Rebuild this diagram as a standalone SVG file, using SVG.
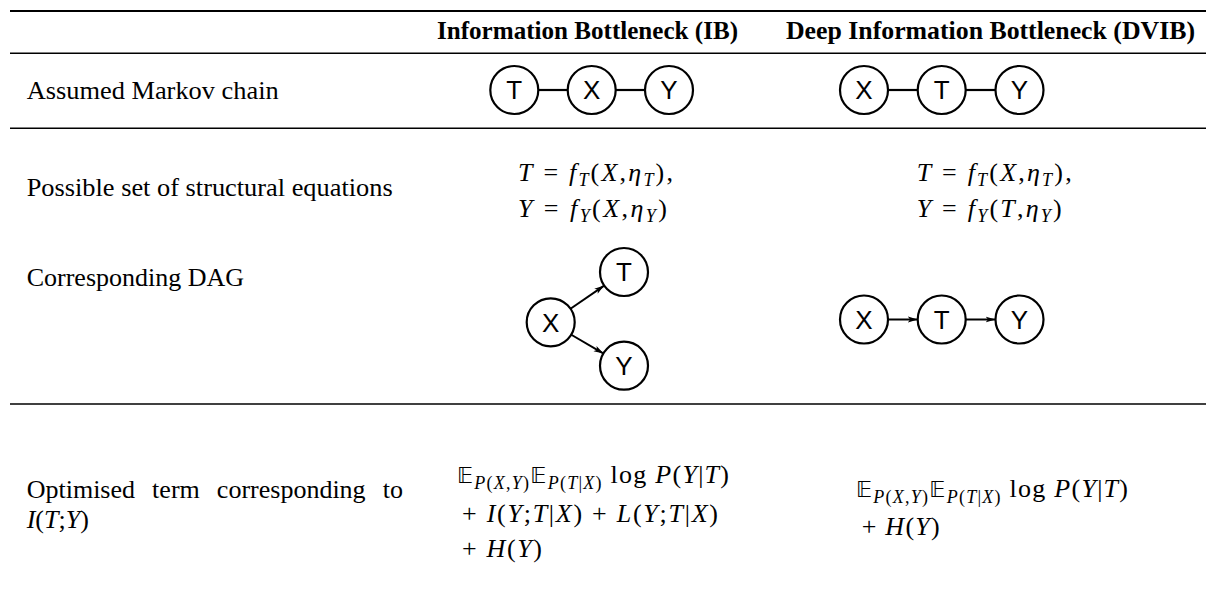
<svg xmlns="http://www.w3.org/2000/svg" width="1206" height="602" viewBox="0 0 1206 602">
<defs>
<style>
.t{font-family:"Liberation Serif","Times New Roman",serif;font-size:26px;fill:#000}
.h{font-family:"Liberation Serif","Times New Roman",serif;font-size:25.5px;font-weight:bold;fill:#000}
.i{font-style:italic}
.s{font-size:18px}
.bb{font-family:"DejaVu Sans","DejaVu Serif",sans-serif;font-size:22px}
.rule{stroke:#000;stroke-width:1.4}
.top{stroke:#000;stroke-width:2.2}
.nd circle{fill:#fff;stroke:#000;stroke-width:2.2}
.nd text{font-family:"Liberation Sans",Arial,sans-serif;font-size:26px;text-anchor:middle;fill:#000}
.ln{stroke:#000;stroke-width:2.2;fill:none}
.ar{stroke:#000;stroke-width:2;fill:none;marker-end:url(#ah)}
</style>
<marker id="ah" markerUnits="userSpaceOnUse" markerWidth="12" markerHeight="8" refX="10" refY="4" orient="auto" viewBox="0 0 12 8">
<path d="M0,1 L10,4 L0,7 L2.5,4 Z" fill="#000"/>
</marker>
</defs>
<rect width="1206" height="602" fill="#fff"/>

<g id="rules">
<line class="top" x1="10" y1="11" x2="1206" y2="11"/>
<line class="rule" x1="10" y1="53.3" x2="1206" y2="53.3"/>
<line class="rule" x1="10" y1="128.3" x2="1206" y2="128.3"/>
<line class="rule" x1="10" y1="404" x2="1206" y2="404"/>
</g>

<g id="header">
<text class="h" x="437" y="39" textLength="301" lengthAdjust="spacingAndGlyphs">Information Bottleneck (IB)</text>
<text class="h" x="786" y="39" textLength="409" lengthAdjust="spacingAndGlyphs">Deep Information Bottleneck (DVIB)</text>
</g>

<g id="row-labels">
<text class="t" x="26.7" y="99.3" textLength="252" lengthAdjust="spacingAndGlyphs">Assumed Markov chain</text>
<text class="t" x="26.7" y="196" textLength="366" lengthAdjust="spacingAndGlyphs">Possible set of structural equations</text>
<text class="t" x="26.7" y="286">Corresponding DAG</text>
<text class="t" x="26.7" y="498.3" word-spacing="10.6">Optimised term corresponding to</text>
<text class="t" x="26.7" y="528.3"><tspan class="i">I</tspan>(<tspan class="i">T</tspan>;<tspan class="i">Y</tspan>)</text>
</g>

<g id="equations">
<text class="t" x="518" y="180.7" textLength="155" lengthAdjust="spacing"><tspan class="i">T</tspan> = <tspan class="i">f</tspan><tspan class="s i" dy="5">T</tspan><tspan dy="-5">(</tspan><tspan class="i">X</tspan>,<tspan class="i">η</tspan><tspan class="s i" dy="5">T</tspan><tspan dy="-5">),</tspan></text>
<text class="t" x="518" y="217.3" textLength="149" lengthAdjust="spacing"><tspan class="i">Y</tspan> = <tspan class="i">f</tspan><tspan class="s i" dy="5">Y</tspan><tspan dy="-5">(</tspan><tspan class="i">X</tspan>,<tspan class="i">η</tspan><tspan class="s i" dy="5">Y</tspan><tspan dy="-5">)</tspan></text>
<text class="t" x="916.7" y="180.7" textLength="155" lengthAdjust="spacing"><tspan class="i">T</tspan> = <tspan class="i">f</tspan><tspan class="s i" dy="5">T</tspan><tspan dy="-5">(</tspan><tspan class="i">X</tspan>,<tspan class="i">η</tspan><tspan class="s i" dy="5">T</tspan><tspan dy="-5">),</tspan></text>
<text class="t" x="916.7" y="217.3" textLength="145" lengthAdjust="spacing"><tspan class="i">Y</tspan> = <tspan class="i">f</tspan><tspan class="s i" dy="5">Y</tspan><tspan dy="-5">(</tspan><tspan class="i">T</tspan>,<tspan class="i">η</tspan><tspan class="s i" dy="5">Y</tspan><tspan dy="-5">)</tspan></text>
</g>

<g id="objectives">
<text class="t" x="457" y="483" textLength="272" lengthAdjust="spacing"><tspan class="bb">𝔼</tspan><tspan class="s i" dy="6">P</tspan><tspan class="s">(</tspan><tspan class="s i">X</tspan><tspan class="s">,</tspan><tspan class="s i">Y</tspan><tspan class="s">)</tspan><tspan class="bb" dy="-6">𝔼</tspan><tspan class="s i" dy="6">P</tspan><tspan class="s">(</tspan><tspan class="s i">T</tspan><tspan class="s">|</tspan><tspan class="s i">X</tspan><tspan class="s">)</tspan><tspan dy="-6"> log </tspan><tspan class="i">P</tspan>(<tspan class="i">Y</tspan>|<tspan class="i">T</tspan>)</text>
<text class="t" x="462" y="521.5" textLength="256" lengthAdjust="spacing">+ <tspan class="i">I</tspan>(<tspan class="i">Y</tspan>;<tspan class="i">T</tspan>|<tspan class="i">X</tspan>) + <tspan class="i">L</tspan>(<tspan class="i">Y</tspan>;<tspan class="i">T</tspan>|<tspan class="i">X</tspan>)</text>
<text class="t" x="462" y="557" textLength="80" lengthAdjust="spacing">+ <tspan class="i">H</tspan>(<tspan class="i">Y</tspan>)</text>
<text class="t" x="856" y="497" textLength="272" lengthAdjust="spacing"><tspan class="bb">𝔼</tspan><tspan class="s i" dy="6">P</tspan><tspan class="s">(</tspan><tspan class="s i">X</tspan><tspan class="s">,</tspan><tspan class="s i">Y</tspan><tspan class="s">)</tspan><tspan class="bb" dy="-6">𝔼</tspan><tspan class="s i" dy="6">P</tspan><tspan class="s">(</tspan><tspan class="s i">T</tspan><tspan class="s">|</tspan><tspan class="s i">X</tspan><tspan class="s">)</tspan><tspan dy="-6"> log </tspan><tspan class="i">P</tspan>(<tspan class="i">Y</tspan>|<tspan class="i">T</tspan>)</text>
<text class="t" x="861.7" y="535" textLength="78" lengthAdjust="spacing">+ <tspan class="i">H</tspan>(<tspan class="i">Y</tspan>)</text>
</g>

<g id="connectors">
<line class="ln" x1="538.3" y1="90" x2="567.7" y2="90"/>
<line class="ln" x1="615.7" y1="90" x2="645" y2="90"/>
<line class="ln" x1="888" y1="90" x2="917.7" y2="90"/>
<line class="ln" x1="965.7" y1="90" x2="995.5" y2="90"/>
<line class="ar" x1="570.5" y1="308.7" x2="604.2" y2="285.6"/>
<line class="ar" x1="570.9" y1="334.5" x2="603.6" y2="353.6"/>
<line class="ar" x1="888" y1="319.5" x2="917.7" y2="319.5"/>
<line class="ar" x1="965.7" y1="319.5" x2="995.5" y2="319.5"/>
</g>

<g id="ib-chain-T" class="nd"><circle cx="514.3" cy="90" r="24"/><text x="514.3" y="99.3">T</text></g>
<g id="ib-chain-X" class="nd"><circle cx="591.7" cy="90" r="24"/><text x="591.7" y="99.3">X</text></g>
<g id="ib-chain-Y" class="nd"><circle cx="669" cy="90" r="24"/><text x="669" y="99.3">Y</text></g>
<g id="dvib-chain-X" class="nd"><circle cx="864" cy="90" r="24"/><text x="864" y="99.3">X</text></g>
<g id="dvib-chain-T" class="nd"><circle cx="941.7" cy="90" r="24"/><text x="941.7" y="99.3">T</text></g>
<g id="dvib-chain-Y" class="nd"><circle cx="1019.5" cy="90" r="24"/><text x="1019.5" y="99.3">Y</text></g>

<g id="ib-dag-X" class="nd"><circle cx="550.7" cy="322.3" r="24"/><text x="550.7" y="331.6">X</text></g>
<g id="ib-dag-T" class="nd"><circle cx="624" cy="272" r="24"/><text x="624" y="281.3">T</text></g>
<g id="ib-dag-Y" class="nd"><circle cx="624" cy="365.7" r="24"/><text x="624" y="375">Y</text></g>
<g id="dvib-dag-X" class="nd"><circle cx="864" cy="319.5" r="24"/><text x="864" y="328.8">X</text></g>
<g id="dvib-dag-T" class="nd"><circle cx="941.7" cy="319.5" r="24"/><text x="941.7" y="328.8">T</text></g>
<g id="dvib-dag-Y" class="nd"><circle cx="1019.5" cy="319.5" r="24"/><text x="1019.5" y="328.8">Y</text></g>
</svg>
